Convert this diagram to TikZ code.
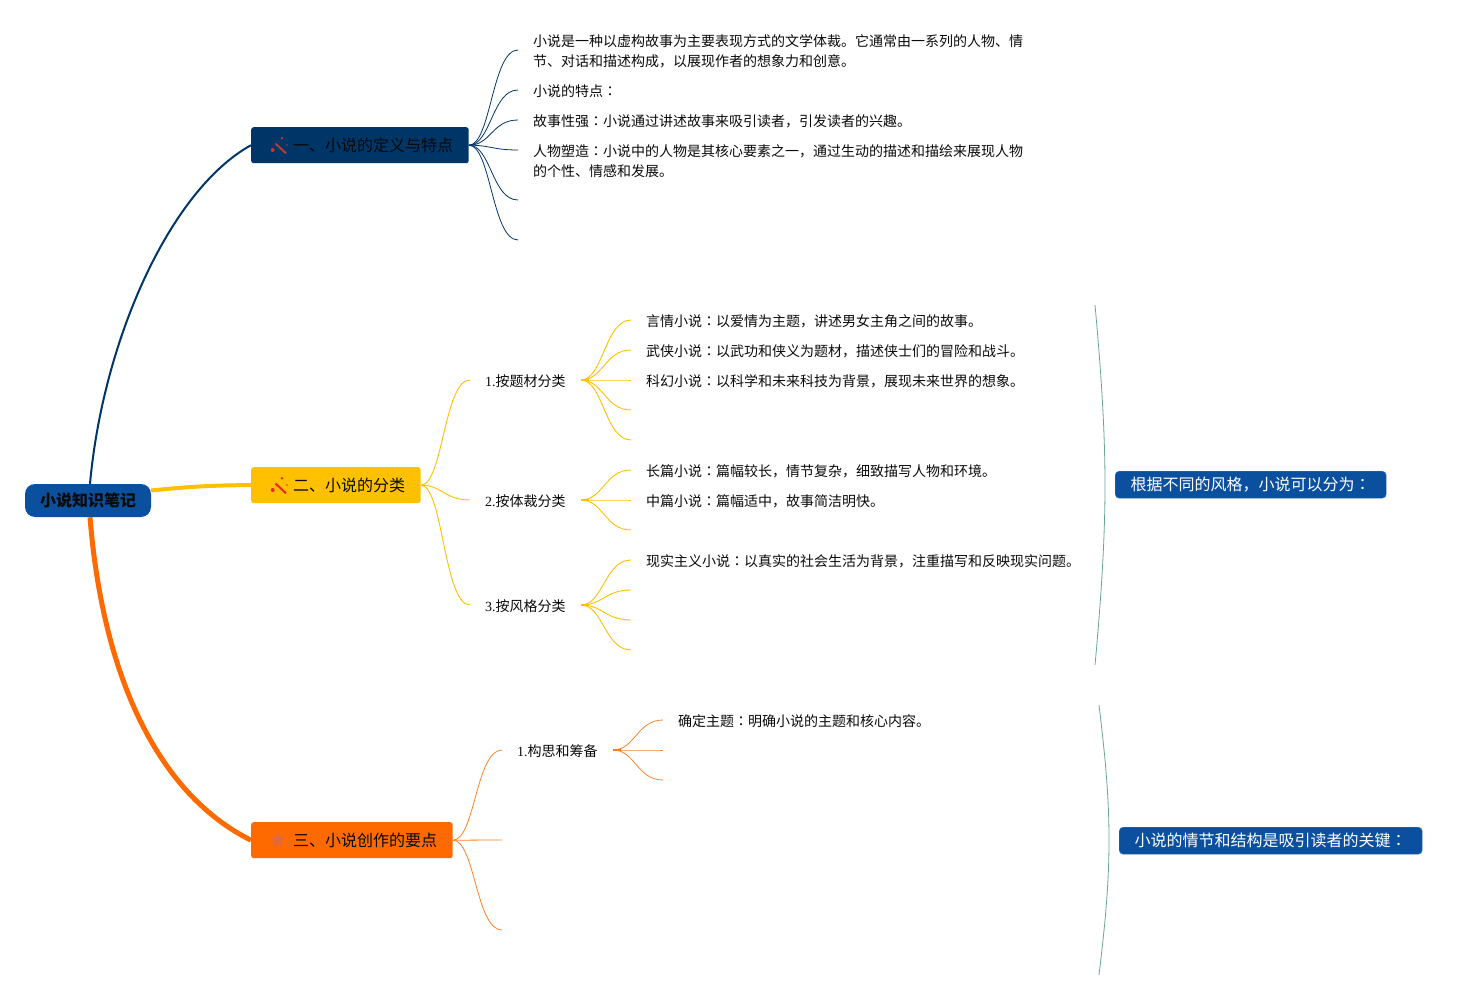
\documentclass[tikz,border=0pt]{standalone}
\usepackage{fontspec}
\setmainfont{Liberation Serif}
\newfontfamily\cjk{Noto Sans CJK SC}
\newfontfamily\cjktc{Noto Sans CJK TC}
\newcommand{\colonc}{{\cjktc ：}}
\usetikzlibrary{shapes.geometric}
\definecolor{navyb}{HTML}{003567}
\definecolor{yellowb}{HTML}{FFC000}
\definecolor{orangeb}{HTML}{FF6A00}
\definecolor{blueb}{HTML}{0B509F}
\definecolor{braceg}{HTML}{6BA596}
\definecolor{wandd}{HTML}{C0392B}
\definecolor{wandr}{HTML}{F0262A}
\definecolor{starc}{HTML}{E2693A}
\definecolor{ink}{HTML}{0A0A0A}
\tikzset{
  topic/.style={draw=none,rounded corners=2.5pt,minimum height=36pt,inner sep=0pt,anchor=north west,text=ink,font=\fontsize{16}{20}\selectfont\cjk},
  root/.style={fill=blueb,rounded corners=10pt,minimum width=126pt,minimum height=33pt,inner sep=0pt,text=ink,font=\fontsize{16}{20}\selectfont\cjk\bfseries},
  note/.style={fill=blueb,draw=blueb!80!white,rounded corners=4pt,minimum height=27pt,inner sep=0pt,anchor=north west,text=white,font=\fontsize{16}{20}\selectfont\cjk},
  txt/.style={anchor=west,inner sep=0pt,align=left,text=ink,font=\fontsize{14}{20}\selectfont\cjk},
  sub/.style={anchor=west,inner sep=0pt,text=ink,font=\fontsize{14}{20}\selectfont},
  lnav/.style={draw=navyb,line width=.8pt},
  lyel/.style={draw=yellowb,line width=.9pt},
  lora/.style={draw=orangeb!85!white,line width=.8pt},
  brace/.style={draw=braceg,line width=.8pt},
  fan/.style={to path={.. controls +(22,0) and +(-26,0) .. (\tikztotarget)}},
}
\begin{document}
\begin{tikzpicture}[x=1pt,y=-1pt]
\useasboundingbox (0,0) rectangle (1467,1000);
% main nodes
\node[root] (R) at (88,500.5) {小说知识笔记};
\node[topic,fill=navyb,minimum width=217.5pt] (A) at (251,127) {};
\node[topic,fill=yellowb,minimum width=169.5pt] (B) at (251,467) {};
\node[topic,fill=orangeb,minimum width=201.5pt] (C) at (251,822) {};
\node[topic,anchor=west,minimum height=0pt] (At) at (293,145.5) {一、小说的定义与特点};
\node[topic,anchor=west,minimum height=0pt] (Bt) at (293,485.5) {二、小说的分类};
\node[topic,anchor=west,minimum height=0pt] (Ct) at (293,840.5) {三、小说创作的要点};
% icons
\foreach \ox/\oy/\ic in {0/0/wandd,0/340/wandr}{
  \begin{scope}[shift={(\ox,\oy)}]
    \draw[\ic,line width=2pt] (275.5,143.5) -- (286,153.3);
    \fill[\ic] (272.7,150) circle (2pt) (282,138.3) circle (1.4pt) (287,145) circle (.8pt);
  \end{scope}
}
\node[star,star points=5,star point ratio=2.2,fill=starc,inner sep=0pt,minimum size=17pt] (Cs) at (278,840) {};
% root connectors
\draw[navyb,line width=2pt] (R.north) ++(2,0) .. controls (103,340) and (170,190) .. (A.west);
\draw[yellowb,line width=4pt] (R.east) ++(0,-10) .. controls (185,487) and (215,485) .. (B.west);
\draw[orangeb,line width=5pt] (R.south) ++(2,0) .. controls (103,680) and (160,795) .. (C.west);
% section one
\foreach \n/\y in {a1/50,a2/90,a3/120,a4/150,a5/200,a6/240}{
  \coordinate (\n) at (518,\y);
  \draw[lnav] (A.east) to[fan] (\n);
}
\node[txt] (ta1) at (533,51.5) {小说是一种以虚构故事为主要表现方式的文学体裁。它通常由一系列的人物、情\\节、对话和描述构成，以展现作者的想象力和创意。};
\node[txt] (ta2) at (533,91.5) {小说的特点\colonc};
\node[txt] (ta3) at (533,121.5) {故事性强\colonc 小说通过讲述故事来吸引读者，引发读者的兴趣。};
\node[txt] (ta4) at (533,161.5) {人物塑造\colonc 小说中的人物是其核心要素之一，通过生动的描述和描绘来展现人物\\的个性、情感和发展。};
% section two
\foreach \n/\y in {b1/380,b2/500,b3/605}{
  \coordinate (\n) at (470,\y);
  \draw[lyel] (B.east) to[fan] (\n);
}
\node[sub] (tb1) at (485,381.5) {1.{\cjk 按题材分类}};
\node[sub] (tb2) at (485,501.5) {2.{\cjk 按体裁分类}};
\node[sub] (tb3) at (485,606.5) {3.{\cjk 按风格分类}};
\coordinate (hb1) at (581,380);
\coordinate (hb2) at (581,500);
\coordinate (hb3) at (581,605);
\foreach \h in {hb1,hb2,hb3}{ \draw[yellowb,line width=1.6pt] (\h) -- ++(8,0); }
\foreach \n/\y in {b11/320,b12/350,b13/380,b14/410,b15/440}{
  \coordinate (\n) at (631,\y);
  \draw[lyel] (hb1) to[fan] (\n);
}
\foreach \n/\y in {b21/470,b22/500,b23/530}{
  \coordinate (\n) at (631,\y);
  \draw[lyel] (hb2) to[fan] (\n);
}
\foreach \n/\y in {b31/560,b32/590,b33/620,b34/650}{
  \coordinate (\n) at (631,\y);
  \draw[lyel] (hb3) to[fan] (\n);
}
\node[txt] (t11) at (646,321.5) {言情小说\colonc 以爱情为主题，讲述男女主角之间的故事。};
\node[txt] (t12) at (646,351.5) {武侠小说\colonc 以武功和侠义为题材，描述侠士们的冒险和战斗。};
\node[txt] (t13) at (646,381.5) {科幻小说\colonc 以科学和未来科技为背景，展现未来世界的想象。};
\node[txt] (t21) at (646,471.5) {长篇小说\colonc 篇幅较长，情节复杂，细致描写人物和环境。};
\node[txt] (t22) at (646,501.5) {中篇小说\colonc 篇幅适中，故事简洁明快。};
\node[txt] (t31) at (646,561.5) {现实主义小说\colonc 以真实的社会生活为背景，注重描写和反映现实问题。};
% section three
\foreach \n/\y in {c1/750,c2/840,c3/930}{
  \coordinate (\n) at (502,\y);
  \draw[lora] (C.east) to[fan] (\n);
}
\node[sub] (tc1) at (517,751.5) {1.{\cjk 构思和筹备}};
\coordinate (hc1) at (613,750);
\draw[orangeb,line width=1.4pt] (hc1) -- ++(8,0);
\foreach \n/\y in {c11/720,c12/750,c13/780}{
  \coordinate (\n) at (663,\y);
  \draw[lora] (hc1) to[fan] (\n);
}
\node[txt] (t41) at (678,721.5) {确定主题\colonc 明确小说的主题和核心内容。};
% summary braces and notes
\coordinate (s1t) at (1095,305);
\coordinate (s1m) at (1105,485);
\coordinate (s1b) at (1095,665);
\draw[brace] (s1t) .. controls (1101,370) and (1105,430) .. (s1m) .. controls (1105,540) and (1101,600) .. (s1b);
\coordinate (s2t) at (1099,705);
\coordinate (s2m) at (1109,840);
\coordinate (s2b) at (1099,975);
\draw[brace] (s2t) .. controls (1105,755) and (1109,795) .. (s2m) .. controls (1109,885) and (1105,925) .. (s2b);
\node[note,minimum width=271pt,yshift=0pt] (N1) at (1115,471) {\raisebox{-1pt}{根据不同的风格，小说可以分为\colonc}};
\node[note,minimum width=303pt] (N2) at (1119,827) {小说的情节和结构是吸引读者的关键\colonc};
\end{tikzpicture}
\end{document}
